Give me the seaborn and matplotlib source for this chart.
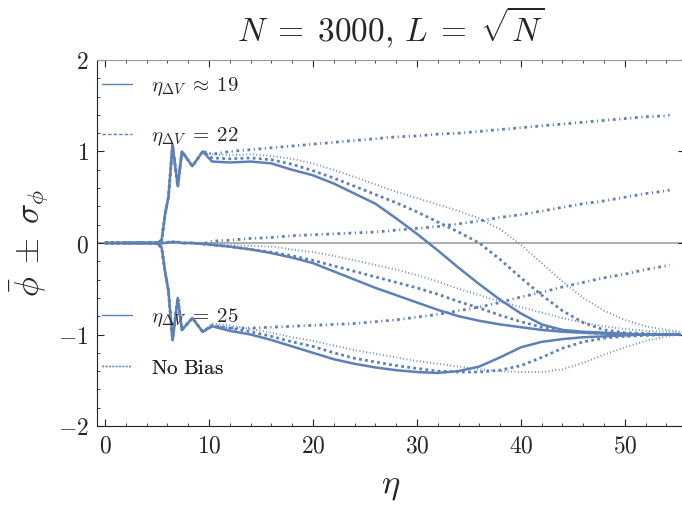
import numpy as np
import matplotlib
matplotlib.use("Agg")
import matplotlib.pyplot as plt
import seaborn as sns
from matplotlib.lines import Line2D

sns.set_style("ticks")
plt.rcParams['mathtext.fontset'] = 'cm'
plt.rcParams['font.family'] = ['DejaVu Serif']
plt.rcParams['axes.unicode_minus'] = True

blue = '#5E81B5'

# shared start of every run (before the bias kicks in)
eta_early = [0, 5.0, 5.45, 5.8, 6.1, 6.5, 7.0, 7.4, 8.4, 9.4]
early_upper = [0, 0, 0.03, 0.33, 0.5, 1.07, 0.62, 1.0, 0.84, 1.0]
early_mid = [0, 0, 0, 0, 0.01, 0.01, 0.01, 0.0, 0.0, -0.01]
early_lower = [0, 0, -0.05, -0.33, -0.52, -1.06, -0.6, -0.95, -0.82, -0.97]

eta_tail = [10.3, 12, 14, 16, 18, 20, 22, 24, 26, 28, 30, 32, 34, 36, 38, 40,
            42, 44, 46, 48, 50, 52, 54, 55.3]
eta_tail_dd = eta_tail[:-1] + [54.3]

# eta_dV ~ 19 (solid)
s19_upper = [0.89, 0.88, 0.89, 0.87, 0.80, 0.74, 0.65, 0.54, 0.43, 0.27, 0.10, -0.08,
             -0.27, -0.45, -0.62, -0.77, -0.89, -0.95, -0.97, -0.98, -0.99, -1.0, -1.0, -1.0]
s19_mid = [-0.02, -0.04, -0.07, -0.11, -0.16, -0.22, -0.31, -0.40, -0.49, -0.57, -0.65, -0.73,
           -0.80, -0.85, -0.89, -0.92, -0.95, -0.97, -0.98, -0.99, -1.0, -1.0, -1.0, -1.0]
s19_lower = [-0.91, -0.96, -1.00, -1.06, -1.13, -1.20, -1.27, -1.32, -1.36, -1.39, -1.41, -1.42,
             -1.40, -1.35, -1.25, -1.14, -1.08, -1.05, -1.03, -1.02, -1.01, -1.0, -1.0, -1.0]

# eta_dV = 22 (thick dotted)
s22_upper = [0.93, 0.92, 0.93, 0.91, 0.86, 0.79, 0.71, 0.62, 0.53, 0.44, 0.34, 0.23,
             0.12, 0.0, -0.18, -0.38, -0.57, -0.74, -0.87, -0.95, -0.98, -0.99, -1.0, -1.0]
s22_mid = [-0.02, -0.04, -0.07, -0.10, -0.14, -0.19, -0.25, -0.31, -0.37, -0.43, -0.49, -0.56,
           -0.64, -0.71, -0.79, -0.86, -0.92, -0.96, -0.98, -0.99, -1.0, -1.0, -1.0, -1.0]
s22_lower = [-0.90, -0.93, -0.97, -1.02, -1.08, -1.13, -1.20, -1.26, -1.30, -1.34, -1.37, -1.40,
             -1.41, -1.41, -1.39, -1.34, -1.25, -1.15, -1.08, -1.04, -1.02, -1.01, -1.0, -1.0]

# eta_dV = 25 (dash-dot)
s25_upper = [0.97, 1.00, 1.02, 1.04, 1.06, 1.08, 1.10, 1.12, 1.14, 1.16, 1.17, 1.19,
             1.20, 1.22, 1.24, 1.26, 1.28, 1.30, 1.32, 1.34, 1.36, 1.38, 1.39, 1.40]
s25_mid = [0.02, 0.03, 0.05, 0.06, 0.08, 0.09, 0.10, 0.11, 0.12, 0.14, 0.16, 0.18,
           0.21, 0.24, 0.28, 0.31, 0.35, 0.39, 0.43, 0.46, 0.50, 0.54, 0.57, 0.58]
s25_lower = [-0.91, -0.93, -0.93, -0.92, -0.91, -0.90, -0.89, -0.88, -0.86, -0.84, -0.81, -0.78,
             -0.74, -0.70, -0.65, -0.59, -0.54, -0.48, -0.43, -0.38, -0.34, -0.29, -0.25, -0.24]

# no bias (thin dotted)
nb_upper = [0.97, 0.96, 0.97, 0.95, 0.92, 0.87, 0.80, 0.72, 0.64, 0.56, 0.49, 0.42,
            0.35, 0.27, 0.15, -0.02, -0.22, -0.42, -0.60, -0.74, -0.84, -0.91, -0.95, -0.97]
nb_mid = [-0.01, -0.02, -0.03, -0.04, -0.07, -0.10, -0.14, -0.19, -0.24, -0.29, -0.35, -0.42,
          -0.50, -0.57, -0.64, -0.70, -0.76, -0.82, -0.87, -0.91, -0.94, -0.96, -0.97, -0.98]
nb_lower = [-0.88, -0.90, -0.94, -0.98, -1.03, -1.07, -1.12, -1.17, -1.21, -1.25, -1.29, -1.32,
            -1.35, -1.38, -1.40, -1.41, -1.41, -1.38, -1.31, -1.22, -1.14, -1.07, -1.02, -1.0]

legend_labels = [r'$\eta_{\Delta V} \;\approx\; 19$', r'$\eta_{\Delta V} \;=\; 22$',
                 r'$\eta_{\Delta V} \;=\; 25$', r'$\mathrm{No\ Bias}$']

series = [
    (eta_tail, [s19_upper, s19_mid, s19_lower], dict(lw=1.8, linestyle='-')),
    (eta_tail, [s22_upper, s22_mid, s22_lower], dict(lw=2.0, linestyle=(0, (1, 1.2)), dash_capstyle='butt')),
    (eta_tail_dd, [s25_upper, s25_mid, s25_lower], dict(lw=2.0, linestyle=(0, (1, 1.3, 0.4, 1.3)), dash_capstyle='butt')),
    (eta_tail, [nb_upper, nb_mid, nb_lower], dict(lw=1.4, linestyle=(0, (0.45, 1.3)), dash_capstyle='butt')),
]

fig = plt.figure(figsize=(6.82, 5.08), dpi=100)
ax = fig.add_axes([0.1422, 0.1614, 0.862, 0.7205])

ax.axhline(0, color='#a8a8a8', lw=1.3, zorder=0.5)

early = [early_upper, early_mid, early_lower]
for eta, curves, style in series:
    for head, tail in zip(early, curves):
        x = np.array(eta_early + list(eta))
        y = np.array(head + tail)
        sns.lineplot(x=x, y=y, ax=ax, color=blue, sort=False, estimator=None,
                     errorbar=None, solid_joinstyle='round', **style)

ax.set_xlim(-0.77, 55.77)
ax.set_ylim(-2, 2)
ax.set_xticks([0, 10, 20, 30, 40, 50], labels=[f'${v}$' for v in [0, 10, 20, 30, 40, 50]])
ax.set_yticks([-2, -1, 0, 1, 2], labels=[r'$-2$', r'$-1$', r'$0$', r'$1$', r'$2$'])
ax.set_xticks(np.arange(0, 56, 2), minor=True)
ax.set_yticks(np.arange(-2, 2.01, 0.2), minor=True)
ax.tick_params(which='both', direction='in', top=True, right=True, labelsize=17, pad=6)
ax.tick_params(which='major', length=5, width=0.8)
ax.tick_params(which='minor', length=2.5, width=0.6)
for side in ['left', 'bottom']:
    ax.spines[side].set_color('#222222')
ax.spines['top'].set_color('#9a9a9a')

ax.set_title(r'$N \;=\; 3000,\, L \;=\; \sqrt{N}$', fontsize=24, pad=13)
ax.set_xlabel(r'$\eta$', fontsize=25, labelpad=8)
ax.set_ylabel(r'$\bar{\phi} \;\pm\; \sigma_{\phi}$', fontsize=24)
ax.yaxis.set_label_coords(-0.078, 0.5)

handle_styles = [dict(linestyle='-'), dict(linestyle=(0, (2.5, 1.5))),
                 dict(linestyle='-'), dict(linestyle=(0, (1.2, 1.2)))]
legend_y = [0.926, 0.790, 0.295, 0.158]
for lab, hs, ly in zip(legend_labels, handle_styles, legend_y):
    h = Line2D([], [], color=blue, lw=1.0, **hs)
    leg = ax.legend([h], [lab], loc='center left', bbox_to_anchor=(0.008, ly),
                    frameon=False, fontsize=15, handlelength=1.45, handletextpad=0.9,
                    borderpad=0, borderaxespad=0)
    ax.add_artist(leg)

fig.savefig('out.png', dpi=100)
